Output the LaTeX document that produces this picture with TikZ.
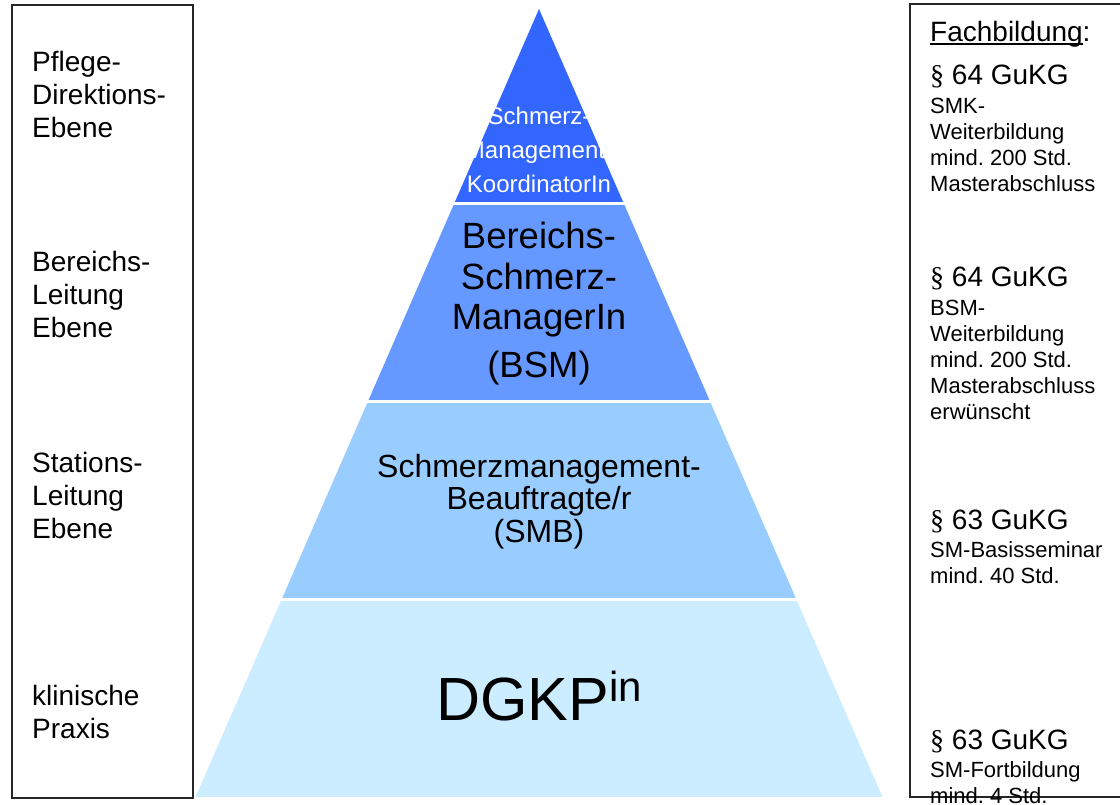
\documentclass[tikz,border=0pt]{standalone}
\usepackage{fontspec}
\setmainfont{Liberation Sans}
\newfontfamily\paraserif{Liberation Serif}
\usetikzlibrary{calc}

\definecolor{lvA}{HTML}{3366FF}
\definecolor{lvB}{HTML}{6699FF}
\definecolor{lvC}{HTML}{99CCFF}
\definecolor{lvD}{HTML}{CCECFF}

% stacked lines whose baseline is the first line's baseline
\newcommand\rows[2][l]{\begin{tabular}[t]{@{}#1@{}}#2\end{tabular}}
% underline set just below the baseline, through the descenders
\newcommand\ulfix[1]{\setbox0\hbox{#1}\rlap{\rule[-2.8pt]{\wd0}{1.3pt}}\box0}
\newcommand\para{{\paraserif\S}}
\frenchspacing

\begin{document}
\begin{tikzpicture}[x=1pt,y=-1pt,
  txt/.style={inner sep=0pt, anchor=base west},
  ctxt/.style={inner sep=0pt, anchor=base},
  frame/.style={draw=black!85, line width=1.2pt},
  sub/.style={font=\fontsize{22}{26}\selectfont}]
\useasboundingbox (0,0) rectangle (1120,805);

% pyramid bands
\coordinate (apex) at (539,9);
\coordinate (bl) at (195.5,797);
\coordinate (br) at (882.5,797);
\begin{scope}
  \clip (apex) -- (bl) -- (br) -- cycle;
  \fill[lvA] (0,0)   rectangle (1120,202);
  \fill[lvB] (0,205) rectangle (1120,400);
  \fill[lvC] (0,403) rectangle (1120,598);
  \fill[lvD] (0,601) rectangle (1120,797);
\end{scope}

% side frames
\draw[frame] (12,5) rectangle (193,798);
\draw[frame] (910,4) rectangle (1126,797);

% level labels
\begin{scope}[every node/.style={txt, font=\fontsize{28}{33}\selectfont}]
  \node (lab1) at (32,72)  {\rows{Pflege-\\Direktions-\\Ebene}};
  \node (lab2) at (32,272) {\rows{Bereichs-\\Leitung\\Ebene}};
  \node (lab3) at (32,472) {\rows{Stations-\\Leitung\\Ebene}};
  \node (lab4) at (32,705) {\rows{klinische\\Praxis}};
\end{scope}

% pyramid texts
\node[ctxt, text=white, font=\fontsize{24}{34}\selectfont] (t1) at (539,125)
  {\rows[c]{Schmerz-\\Management-\\KoordinatorIn}};
\node[ctxt, font=\fontsize{36.5}{40.5}\selectfont] (t2) at (539,249)
  {\rows[c]{Bereichs-\\Schmerz-\\ManagerIn\\[7pt](BSM)}};
\node[ctxt, font=\fontsize{32}{32.5}\selectfont] (t3) at (539,477)
  {\rows[c]{Schmerzmanagement-\\Beauftragte/r\\(SMB)}};
\node[ctxt, font=\fontsize{61}{61}\selectfont] (t4) at (539,720)
  {DGKP\raisebox{19pt}{\fontsize{42}{42}\selectfont in}};

% qualification column
\node[txt, font=\fontsize{28}{30}\selectfont] (fach) at (930,42) {\ulfix{Fachbildung}:};
\begin{scope}[every node/.style={txt, sub}]
  \node (r1) at (930,85)
    {\rows{{\fontsize{28}{30}\selectfont\para{} 64 GuKG}\\[2.5pt]SMK-\\Weiterbildung\\mind. 200 Std.\\Masterabschluss}};
  \node (r2) at (930,287)
    {\rows{{\fontsize{28}{30}\selectfont\para{} 64 GuKG}\\[2.5pt]BSM-\\Weiterbildung\\mind. 200 Std.\\Masterabschluss\\erwünscht}};
  \node (r3) at (930,529)
    {\rows{{\fontsize{28}{30}\selectfont\para{} 63 GuKG}\\[2.5pt]SM-Basisseminar\\mind. 40 Std.}};
  \node (r4) at (930,749)
    {\rows{{\fontsize{28}{30}\selectfont\para{} 63 GuKG}\\[2.5pt]SM-Fortbildung\\mind. 4 Std.}};
\end{scope}
\end{tikzpicture}
\end{document}
